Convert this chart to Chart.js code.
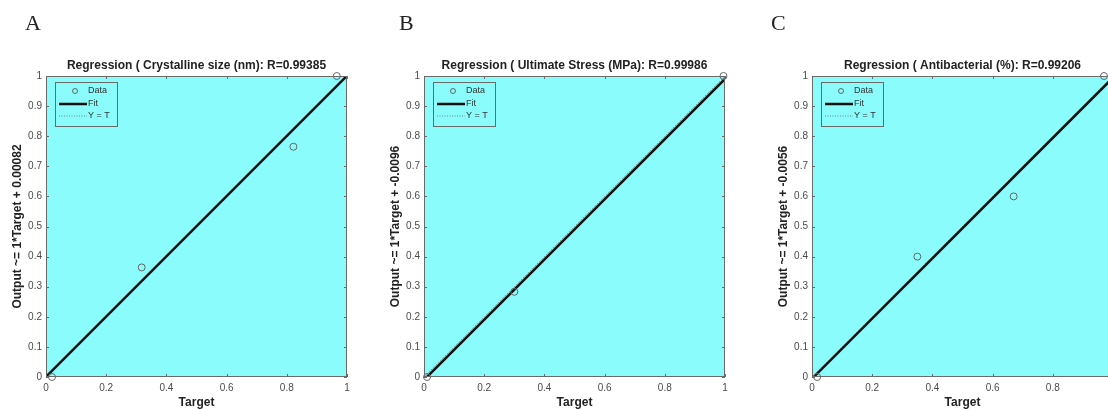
<!DOCTYPE html>
<html>
<head>
<meta charset="utf-8">
<script src="https://cdn.jsdelivr.net/npm/chart.js@4.4.1/dist/chart.umd.min.js"></script>
<style>
html, body { margin: 0; padding: 0; background: #fff; width: 1108px; height: 410px; overflow: hidden; }
.panel { position: absolute; top: 0; width: 360px; height: 410px; }
.letter { position: absolute; top: 12px; font-family: "Liberation Serif", "Times New Roman", serif; font-size: 22px; line-height: 22px; color: #222; }
</style>
</head>
<body>
<div class="panel" style="left:0px"><canvas id="chartA" width="360" height="410"></canvas></div>
<div class="panel" style="left:378px"><canvas id="chartB" width="360" height="410"></canvas></div>
<div class="panel" style="left:766px"><canvas id="chartC" width="360" height="410"></canvas></div>
<div class="letter" style="left:25px">A</div>
<div class="letter" style="left:399px">B</div>
<div class="letter" style="left:771px">C</div>
<script>
// tick values and labels shared by all three panels
var xTicks = [0, 0.2, 0.4, 0.6, 0.8, 1];
var xTickLabels = ['0', '0.2', '0.4', '0.6', '0.8', '1'];
var yTicks = [0, 0.1, 0.2, 0.3, 0.4, 0.5, 0.6, 0.7, 0.8, 0.9, 1];
var yTickLabels = ['0', '0.1', '0.2', '0.3', '0.4', '0.5', '0.6', '0.7', '0.8', '0.9', '1'];

// A - crystalline size
var titleA = 'Regression ( Crystalline size (nm): R=0.99385';
var yLabelA = 'Output ~= 1*Target + 0.00082';
var targetA = [0.02, 0.318, 0.822, 0.966];
var outputA = [0.0, 0.364, 0.765, 1.0];
var fitA = [0.00082, 1.00082];

// B - ultimate stress
var titleB = 'Regression ( Ultimate Stress (MPa): R=0.99986';
var yLabelB = 'Output ~= 1*Target + -0.0096';
var targetB = [0.01, 0.30, 0.995];
var outputB = [0.0, 0.283, 1.0];
var fitB = [-0.0096, 0.9904];

// C - antibacterial
var titleC = 'Regression ( Antibacterial (%): R=0.99206';
var yLabelC = 'Output ~= 1*Target + -0.0056';
var targetC = [0.017, 0.35, 0.67, 0.97];
var outputC = [0.0, 0.40, 0.60, 1.0];
var fitC = [-0.0056, 0.9944];

var lineX = [0, 1];
var idealY = [0, 1];

var FONT = '"Liberation Sans", Arial, Helvetica, sans-serif';
var PLOT_BG = '#8afcfc';
var EDGE = '#6a6a6a';

function pts(xs, ys) {
    return xs.map(function (x, i) { return { x: x, y: ys[i] }; });
}

var framePlugin = {
    id: 'frame',
    beforeDraw: function (chart) {
        var a = chart.chartArea;
        var ctx = chart.ctx;
        ctx.save();
        ctx.fillStyle = PLOT_BG;
        ctx.fillRect(a.left, a.top, a.right - a.left, a.bottom - a.top);
        ctx.restore();
    },
    afterDatasetsDraw: function (chart) {
        var a = chart.chartArea;
        var ctx = chart.ctx;
        var sx = chart.scales.x, sy = chart.scales.y;
        ctx.save();
        ctx.strokeStyle = EDGE;
        ctx.lineWidth = 1;
        ctx.strokeRect(a.left + 0.5, a.top + 0.5, a.right - a.left - 1, a.bottom - a.top - 1);
        // inward tick marks on all four sides
        ctx.beginPath();
        xTicks.forEach(function (v) {
            var px = Math.round(sx.getPixelForValue(v)) + 0.5;
            ctx.moveTo(px, a.bottom); ctx.lineTo(px, a.bottom - 3);
            ctx.moveTo(px, a.top); ctx.lineTo(px, a.top + 3);
        });
        yTicks.forEach(function (v) {
            var py = Math.round(sy.getPixelForValue(v)) + 0.5;
            ctx.moveTo(a.left, py); ctx.lineTo(a.left + 3, py);
            ctx.moveTo(a.right, py); ctx.lineTo(a.right - 3, py);
        });
        ctx.stroke();

        // legend box, top-left inside the plot
        var lx = a.left + 9, ly = a.top + 6, lw = 62, lh = 44;
        ctx.strokeStyle = EDGE;
        ctx.strokeRect(lx + 0.5, ly + 0.5, lw, lh);
        ctx.font = '9px ' + FONT;
        ctx.fillStyle = '#333';
        ctx.textBaseline = 'middle';
        var ds = chart.data.datasets;
        // Data
        ctx.beginPath();
        ctx.strokeStyle = '#666';
        ctx.arc(lx + 20, ly + 9, 2.5, 0, Math.PI * 2);
        ctx.stroke();
        ctx.fillText(ds[0].label, lx + 33, ly + 9);
        // Fit
        ctx.beginPath();
        ctx.strokeStyle = '#111';
        ctx.lineWidth = 2.5;
        ctx.moveTo(lx + 4, ly + 22); ctx.lineTo(lx + 32, ly + 22);
        ctx.stroke();
        ctx.fillText(ds[1].label, lx + 33, ly + 22);
        // Y = T
        ctx.beginPath();
        ctx.strokeStyle = '#555';
        ctx.lineWidth = 0.7;
        ctx.setLineDash([1, 1.5]);
        ctx.moveTo(lx + 4, ly + 34); ctx.lineTo(lx + 32, ly + 34);
        ctx.stroke();
        ctx.setLineDash([]);
        ctx.fillText(ds[2].label, lx + 33, ly + 34);
        ctx.restore();
    },
    afterDraw: function (chart) {
        var a = chart.chartArea;
        var ctx = chart.ctx;
        ctx.save();
        ctx.font = 'bold 12px ' + FONT;
        ctx.fillStyle = '#222';
        ctx.textAlign = 'center';
        ctx.textBaseline = 'middle';
        ctx.fillText(chart.options.plotTitle, (a.left + a.right) / 2, a.top - 10);
        ctx.restore();
    }
};

function makeChart(id, title, yLabel, target, output, fit) {
    var el = document.getElementById(id);
    return new Chart(el, {
        type: 'scatter',
        data: {
            datasets: [
                {
                    label: 'Data',
                    data: pts(target, output),
                    pointStyle: 'circle',
                    pointRadius: 3.5,
                    backgroundColor: 'rgba(0,0,0,0)',
                    borderColor: '#666',
                    borderWidth: 1,
                    showLine: false,
                    clip: false,
                    order: 0
                },
                {
                    label: 'Fit',
                    data: pts(lineX, fit),
                    showLine: true,
                    borderColor: '#111',
                    borderWidth: 2.5,
                    pointRadius: 0,
                    order: 1
                },
                {
                    label: 'Y = T',
                    data: pts(lineX, idealY),
                    showLine: true,
                    borderColor: '#555',
                    borderWidth: 0.7,
                    borderDash: [1, 1.5],
                    pointRadius: 0,
                    order: 2
                }
            ]
        },
        options: {
            responsive: false,
            animation: false,
            plotTitle: title,
            layout: { padding: { top: 76, right: 13, left: 0, bottom: 0 } },
            plugins: {
                legend: { display: false },
                tooltip: { enabled: false },
                title: { display: false }
            },
            scales: {
                x: {
                    type: 'linear',
                    min: 0,
                    max: 1,
                    afterFit: function (s) { s.height = 33; },
                    afterBuildTicks: function (s) { s.ticks = xTicks.map(function (v) { return { value: v }; }); },
                    grid: { display: false, drawTicks: false },
                    border: { display: false },
                    ticks: {
                        padding: 5, color: '#4a4a4a', font: { family: FONT, size: 10 }, maxRotation: 0,
                        callback: function (v, i) { return xTickLabels[i]; }
                    },
                    title: { display: true, text: 'Target', color: '#222', padding: 0, font: { family: FONT, size: 12, weight: 'bold' } }
                },
                y: {
                    type: 'linear',
                    min: 0,
                    max: 1,
                    afterFit: function (s) { s.width = 46; },
                    afterBuildTicks: function (s) { s.ticks = yTicks.map(function (v) { return { value: v }; }); },
                    grid: { display: false, drawTicks: false },
                    border: { display: false },
                    ticks: {
                        padding: 4, color: '#4a4a4a', font: { family: FONT, size: 10 },
                        callback: function (v, i) { return yTickLabels[i]; }
                    },
                    title: { display: true, text: yLabel, color: '#222', padding: { top: 10, bottom: 0 }, font: { family: FONT, size: 12, weight: 'bold' } }
                }
            }
        },
        plugins: [framePlugin]
    });
}

document.addEventListener('DOMContentLoaded', function () {
    makeChart('chartA', titleA, yLabelA, targetA, outputA, fitA);
    makeChart('chartB', titleB, yLabelB, targetB, outputB, fitB);
    makeChart('chartC', titleC, yLabelC, targetC, outputC, fitC);
});
</script>
</body>
</html>
